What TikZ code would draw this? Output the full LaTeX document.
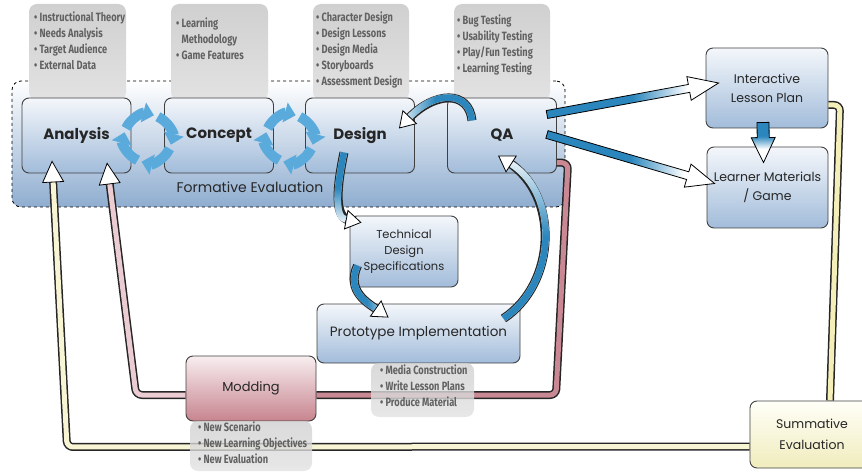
\documentclass[tikz,border=0pt]{standalone}
\usepackage{fontspec}
\setmainfont{Poppins}
\newfontfamily\notefont[FakeStretch=0.77]{Fira Sans}
\usetikzlibrary{arrows.meta,calc,fadings}
\definecolor{boxtop}{HTML}{F4F7FB}
\definecolor{boxbot}{HTML}{A2BCDA}
\definecolor{regbot}{HTML}{8FADD0}
\definecolor{arrblue}{HTML}{2A86BD}
\definecolor{ringblue}{HTML}{5AAADC}
\definecolor{pinkdark}{HTML}{C98893}
\definecolor{pinklight}{HTML}{EBCCD2}
\definecolor{modtop}{HTML}{F8EEF0}
\definecolor{modbot}{HTML}{C7848F}
\definecolor{yel}{HTML}{F4EFB8}
\definecolor{sumtop}{HTML}{FFFFF8}
\definecolor{sumbot}{HTML}{F0ECBD}
\definecolor{notetop}{HTML}{D0D0D0}
\definecolor{notebot}{HTML}{E2E2E2}
\definecolor{txt}{HTML}{262626}
\pgfdeclarelayer{bg}
\pgfsetlayers{bg,main}
\pgfdeclarehorizontalshading{bwh}{100bp}{color(0bp)=(arrblue); color(50bp)=(arrblue); color(66bp)=(white); color(100bp)=(white)}
\pgfdeclareverticalshading{bwv}{100bp}{color(0bp)=(white); color(42bp)=(white); color(58bp)=(arrblue); color(100bp)=(arrblue)}
\tikzfading[name=fadeN, top color=transparent!100, bottom color=transparent!0, middle color=transparent!0]
\tikzfading[name=fadeS, top color=transparent!0, bottom color=transparent!100, middle color=transparent!0]
\tikzfading[name=fadeW, left color=transparent!100, right color=transparent!0, middle color=transparent!0]
\tikzfading[name=fadeE, left color=transparent!0, right color=transparent!100, middle color=transparent!0]
\newcommand\fatarrow[6]{%
  \coordinate (fA) at #1; \coordinate (fB) at #2;
  \coordinate (fC) at ($(fB)!#5!(fA)$);
  \draw[#6, line width=0.8pt, draw=black]
    ($(fA)!#3!90:(fB)$) -- ($(fC)!#3!90:(fB)$) -- ($(fC)!#4!90:(fB)$) -- (fB)
    -- ($(fC)!#4!-90:(fB)$) -- ($(fC)!#3!-90:(fB)$) -- ($(fA)!#3!-90:(fB)$) -- cycle;}
\newcommand\bluecurve[2]{%
  \draw[line width=9pt,black!85,shorten >=12pt] #1;
  \draw[line width=6.5pt,white,-{Triangle[length=16pt,width=20pt,fill=white,color=black,line width=0.8pt]}] #1;
  \draw[line width=6.5pt,arrblue,shorten >=16pt,path fading=#2] #1;}
\newcommand\bandline[2]{%
  \draw[line width=8pt,black!85,rounded corners=6pt] #2;
  \draw[line width=5pt,#1,rounded corners=6pt] #2;}
\newcommand\bandarrow[2]{%
  \draw[line width=8pt,black!85,rounded corners=6pt,shorten >=18pt] #2;
  \draw[line width=5pt,#1,rounded corners=6pt,-{Triangle[length=22pt,width=22pt,fill=white,color=black,line width=0.8pt]}] #2;}
\newcommand\ringarrows[1]{%
  \foreach \a in {-155,-65,25,115}{
    \draw[ringblue,line width=10pt,-{Triangle[length=11pt,width=20pt]}]
      ($(#1)+(\a:24)$) arc[start angle=\a, end angle=\a+80, radius=24];}}
\tikzset{
  bluebox/.style={draw=black!75, line width=0.9pt, rounded corners=7pt,
    top color=boxtop, bottom color=boxbot, text=txt, align=center, inner sep=0pt},
  phase/.style={bluebox, minimum width=109pt, minimum height=75pt,
    font=\bfseries\fontsize{15}{18}\selectfont},
  region/.style={draw=black, dashed, line width=0.8pt, rounded corners=9pt,
    top color=white, bottom color=regbot, minimum width=553pt, minimum height=126pt, inner sep=0pt},
  notebox/.style={rounded corners=8pt, top color=notetop, bottom color=notebot, inner sep=0pt},
  notetext/.style={anchor=north west, inner sep=0pt, align=left, text=black!62,
    font=\notefont\bfseries\fontsize{12}{16}\selectfont},
}
\begin{document}
\begin{tikzpicture}[x=1pt,y=-1pt]
\useasboundingbox (0,0) rectangle (862,473);

\begin{pgfonlayer}{bg}
\node[region] (fe) at (288.5,144) {};
\node[font=\fontsize{14}{16}\selectfont, text=txt] (fel) at (250,187) {Formative Evaluation};
% top note boxes
\node[notebox, minimum width=97pt, minimum height=96pt] (anb) at (77.5,52) {};
\node[notebox, minimum width=97pt, minimum height=96pt] (cob) at (219.5,52) {};
\node[notebox, minimum width=96pt, minimum height=96pt] (deb) at (361,52) {};
\node[notebox, minimum width=96pt, minimum height=96pt] (qab) at (502,52) {};
\node[notetext] (ant) at (34,12) {• Instructional Theory\\• Needs Analysis\\• Target Audience\\• External Data};
\node[notetext] (cot) at (176,18) {• Learning\\\phantom{• }Methodology\\• Game Features};
\node[notetext] (det) at (316,12) {• Character Design\\• Design Lessons\\• Design Media\\• Storyboards\\• Assessment Design};
\node[notetext] (qat) at (457,15) {• Bug Testing\\• Usability Testing\\• Play/Fun Testing\\• Learning Testing};
% main boxes
\node[phase] (an) at (76.5,135.5) {Analysis};
\node[phase] (co) at (219,135.5) {Concept};
\node[phase] (de) at (360,135.5) {Design};
\node[phase] (qa) at (502,135.5) {QA};
\node[bluebox, minimum width=122pt, minimum height=80pt, font=\fontsize{12.5}{19}\selectfont] (ilp) at (767,88) {Interactive\\Lesson Plan};
\node[bluebox, minimum width=121pt, minimum height=81pt, font=\fontsize{12.5}{19}\selectfont] (lm) at (767.5,187.5) {Learner Materials\\/ Game};
\node[bluebox, minimum width=108pt, minimum height=71pt, font=\fontsize{11.5}{16}\selectfont] (tds) at (404,251.5) {Technical\\Design\\Specifications};
\node[bluebox, minimum width=203pt, minimum height=59pt, font=\fontsize{13.5}{16}\selectfont] (pi) at (418.5,333.5) {Prototype Implementation};
% cycle rings
\coordinate (r1) at ($($(an.east)!0.5!(co.west)$)+(0,3)$);
\coordinate (r2) at ($($(co.east)!0.5!(de.west)$)+(0,3)$);
\ringarrows{r1}
\ringarrows{r2}
\end{pgfonlayer}

\node[draw=black!75, line width=0.9pt, rounded corners=7pt, top color=modtop, bottom color=modbot,
  minimum width=130pt, minimum height=65pt, text=txt, font=\fontsize{13}{16}\selectfont] (mo) at (251,388.5) {Modding};
\node[draw=black!75, line width=0.9pt, rounded corners=7pt, top color=sumtop, bottom color=sumbot,
  minimum width=124pt, minimum height=67pt, text=txt, align=center, inner sep=0pt,
  font=\fontsize{12.5}{21}\selectfont] (se) at (812,434.5) {Summative\\Evaluation};

\begin{pgfonlayer}{bg}
% yellow summative loop
\bandline{yel}{($(ilp.east)+(0,17)$) -- (840,105) -- ($(se.north)+(18,0)$)}
\bandarrow{yel!60!white}{($(se.west)+(0,12)$) -- (67,447) -- ($(an.south)+(-24.5,-13)$)}
% pink modding loop
\bandline{pinkdark}{($(qa.east)+(0,27)$) -- (568,163) -- (556,395) -- ($(mo.east)+(0,6.5)$)}
\bandarrow{pinklight}{($(mo.west)+(0,6.5)$) -- (136,395) -- ($(an.south)+(30.5,-11)$)}
\end{pgfonlayer}

% lower note boxes
\node[notebox, fill opacity=0.8, minimum width=122pt, minimum height=50pt] (mob) at (251,446) {};
\node[notetext] (mot) at (198,422) {• New Scenario\\• New Learning Objectives\\• New Evaluation};
\node[notebox, fill opacity=0.8, minimum width=103pt, minimum height=54pt] (pib) at (422.5,390) {};
\node[notetext] (pit) at (380,365) {• Media Construction\\• Write Lesson Plans\\• Produce Material};

% blue flow arrows
\fatarrow{($(qa.east)+(-10,-21)$)}{($(ilp.west)+(13,-5)$)}{4pt}{12pt}{30pt}{shade,shading=bwh}
\fatarrow{($(qa.east)+(-10,-1)$)}{($(lm.west)+(8,-4)$)}{4pt}{12pt}{28pt}{shade,shading=bwh}
\fatarrow{($(ilp.south)+(-4,-6)$)}{($(lm.north)+(-4,16)$)}{6pt}{12pt}{25pt}{shade,shading=bwv}
\bluecurve{($(qa.center)+(-30,-15)$) .. controls ($(qa.center)+(-33,-45)$) and ($(de.east)+(20,-45)$) .. ($(de.east)+(-16,-7)$)}{fadeW}
\bluecurve{($(de.center)+(-16,17)$) .. controls ($(de.center)+(-24,55)$) and ($(tds.north west)+(-15,2)$) .. ($(tds.north west)+(12,7)$)}{fadeS}
\bluecurve{($(tds.west)+(8,14)$) .. controls ($(tds.west)+(-4,40)$) and ($(pi.north west)+(52,0)$) .. ($(pi.north west)+(72,14)$)}{fadeE}
\bluecurve{($(pi.north east)+(-17,15)$) .. controls ($(pi.north east)+(36,-20)$) and ($(qa.south east)+(3,22)$) .. ($(qa.center)+(-4,20)$)}{fadeN}
\end{tikzpicture}
\end{document}
